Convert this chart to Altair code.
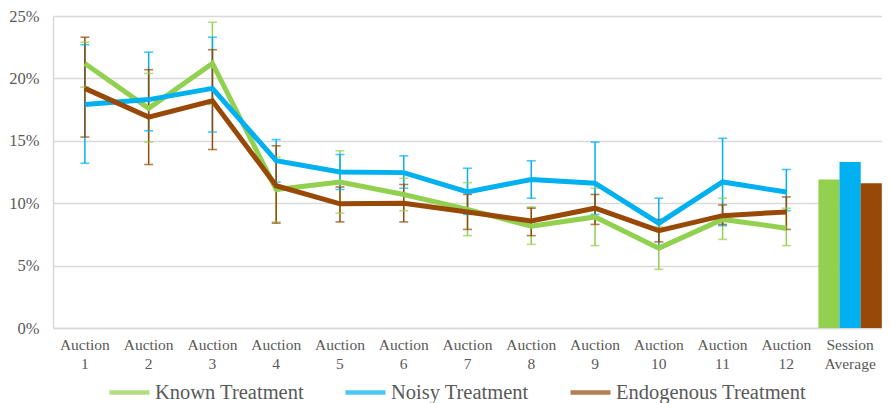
import altair as alt
import pandas as pd

auctions = ["Auction 1", "Auction 2", "Auction 3", "Auction 4", "Auction 5", "Auction 6",
            "Auction 7", "Auction 8", "Auction 9", "Auction 10", "Auction 11", "Auction 12"]
avg_label = "Session Average"
treatments = ["Known Treatment", "Noisy Treatment", "Endogenous Treatment"]
colors = ["#92D050", "#00B0F0", "#984807"]

known_mean = [21.2, 17.6, 21.2, 11.1, 11.7, 10.7, 9.5, 8.15, 8.9, 6.4, 8.7, 8.0]
known_hi = [22.9, 20.4, 24.5, 13.7, 14.2, 12.0, 11.65, 9.7, 11.2, 8.1, 10.4, 9.6]
known_lo = [19.3, 14.9, 17.9, 8.5, 9.2, 9.4, 7.4, 6.7, 6.6, 4.7, 7.1, 6.6]

noisy_mean = [17.9, 18.3, 19.2, 13.4, 12.5, 12.45, 10.9, 11.9, 11.6, 8.4, 11.7, 10.9]
noisy_hi = [22.7, 22.1, 23.3, 15.1, 13.9, 13.8, 12.8, 13.4, 14.9, 10.4, 15.2, 12.7]
noisy_lo = [13.2, 15.8, 15.7, 11.7, 11.1, 11.2, 9.1, 10.4, 9.1, 6.4, 8.2, 9.4]

endo_mean = [19.2, 16.9, 18.2, 11.4, 9.95, 10.0, 9.3, 8.57, 9.6, 7.8, 9.0, 9.3]
endo_hi = [23.3, 20.7, 22.3, 14.6, 11.3, 11.5, 10.7, 9.6, 10.7, 8.7, 9.86, 10.5]
endo_lo = [15.3, 13.1, 14.3, 8.4, 8.5, 8.5, 7.9, 7.4, 8.3, 6.9, 8.3, 7.9]

session_avg = [11.9, 13.3, 11.6]

y_ticks = [0, 5, 10, 15, 20, 25]

# ---- build tables ----
rows = []
for t, m, hi, lo in zip(treatments,
                        [known_mean, noisy_mean, endo_mean],
                        [known_hi, noisy_hi, endo_hi],
                        [known_lo, noisy_lo, endo_lo]):
    for c, mv, hv, lv in zip(auctions, m, hi, lo):
        rows.append({"cat": c, "treatment": t, "mean": mv, "hi": hv, "lo": lv})
line_df = pd.DataFrame(rows)
bar_df = pd.DataFrame({"cat": [avg_label] * 3, "treatment": treatments, "value": session_avg})

all_cats = auctions + [avg_label]
FONT = "Liberation Serif"
TXT = "#595959"
GRID = "#d9d9d9"

x_enc = alt.X("cat:N", sort=all_cats,
              scale=alt.Scale(domain=all_cats, paddingInner=0, paddingOuter=0),
              axis=alt.Axis(title=None, labelAngle=0, labelExpr="split(datum.label, ' ')",
                            ticks=False, domainColor=GRID, domainWidth=1.5,
                            labelFontSize=15.5, labelLineHeight=19, labelPadding=9,
                            labelColor=TXT, labelFont=FONT, grid=False, labelBaseline="top"))

y_scale = alt.Scale(domain=[0, 25], nice=False)
y_axis = alt.Axis(title=None, values=y_ticks, labelExpr="datum.value + '%'", grid=True,
                  gridColor=GRID, gridWidth=1.3, domainColor=GRID, domainWidth=1.5,
                  ticks=False, labelFontSize=16.5, labelColor=TXT, labelFont=FONT,
                  labelPadding=14)

legend = alt.Legend(title=None, orient="none", legendX=54, legendY=354,
                    direction="horizontal", symbolType="stroke",
                    symbolSize=1600, symbolStrokeWidth=4.5,
                    labelFontSize=20.5, labelFont=FONT, labelColor=TXT, labelLimit=400,
                    columnPadding=32, labelOffset=3)

color_enc = alt.Color("treatment:N", sort=treatments,
                      scale=alt.Scale(domain=treatments, range=colors), legend=legend)

rules = alt.Chart(line_df).mark_rule(strokeWidth=1.5).encode(
    x=x_enc,
    y=alt.Y("lo:Q", scale=y_scale, axis=y_axis),
    y2="hi:Q",
    color=color_enc,
)
caps_hi = alt.Chart(line_df).mark_tick(size=9, thickness=1.6).encode(
    x=x_enc, y=alt.Y("hi:Q", scale=y_scale, axis=y_axis), color=color_enc,
)
caps_lo = alt.Chart(line_df).mark_tick(size=9, thickness=1.6).encode(
    x=x_enc, y=alt.Y("lo:Q", scale=y_scale, axis=y_axis), color=color_enc,
)

lines = alt.Chart(line_df).mark_line(strokeWidth=5).encode(
    x=x_enc,
    y=alt.Y("mean:Q", scale=y_scale, axis=y_axis),
    color=color_enc,
)

bars = alt.Chart(bar_df).mark_bar(size=21.2).encode(
    x=x_enc,
    xOffset=alt.XOffset("treatment:N", sort=treatments,
                        scale=alt.Scale(domain=treatments, paddingInner=0, paddingOuter=0.01)),
    y=alt.Y("value:Q", scale=y_scale, axis=y_axis),
    fill=alt.Fill("treatment:N", sort=treatments,
                  scale=alt.Scale(domain=treatments, range=colors), legend=None),
)

chart = alt.layer(rules, caps_hi, caps_lo, lines, bars).properties(
    width=829, height=312,
    padding={"left": 0, "top": 0, "right": 0, "bottom": 0},
).configure_view(stroke=None)

chart.save("out.html", embed_options={"renderer": "svg", "actions": False})
